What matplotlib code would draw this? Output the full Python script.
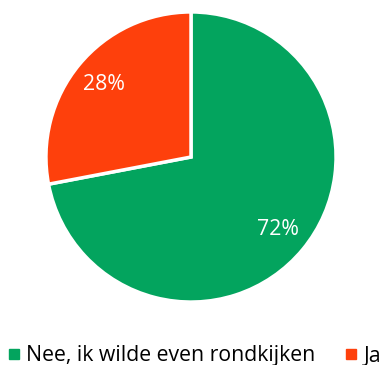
import matplotlib.pyplot as plt
from matplotlib.lines import Line2D

labels = ["Nee, ik wilde even rondkijken", "Ja"]
values = [72, 28]
colors = ["#03A45E", "#FE400C"]

plt.rcParams['font.family'] = ['Open Sans', 'DejaVu Sans']

fig = plt.figure(figsize=(3.84, 3.65), dpi=100)
W, H = 384, 365
cx, cy, r = 191, 157, 146.5
ax = fig.add_axes([(cx - r) / W, (H - cy - r) / H, 2 * r / W, 2 * r / H])

ax.pie(values, colors=colors, startangle=90, counterclock=False,
       autopct='%d%%', pctdistance=0.78, radius=1,
       wedgeprops=dict(edgecolor='white', linewidth=2.5),
       textprops=dict(color='white', fontsize=15.3))
ax.set_xlim(-1.01, 1.01)
ax.set_ylim(-1.01, 1.01)
ax.axis('off')

handles = [Line2D([], [], marker='s', linestyle='', markersize=6.5,
                  markerfacecolor=c, markeredgecolor=c) for c in colors]
fig.legend(handles, labels, loc='center left', bbox_to_anchor=(4 / W, (H - 356) / H),
           ncol=2, frameon=False, fontsize=15.3, handlelength=0.5,
           handletextpad=0.35, columnspacing=1.4, borderaxespad=0, borderpad=0.2)

fig.savefig('out.png', dpi=100)
